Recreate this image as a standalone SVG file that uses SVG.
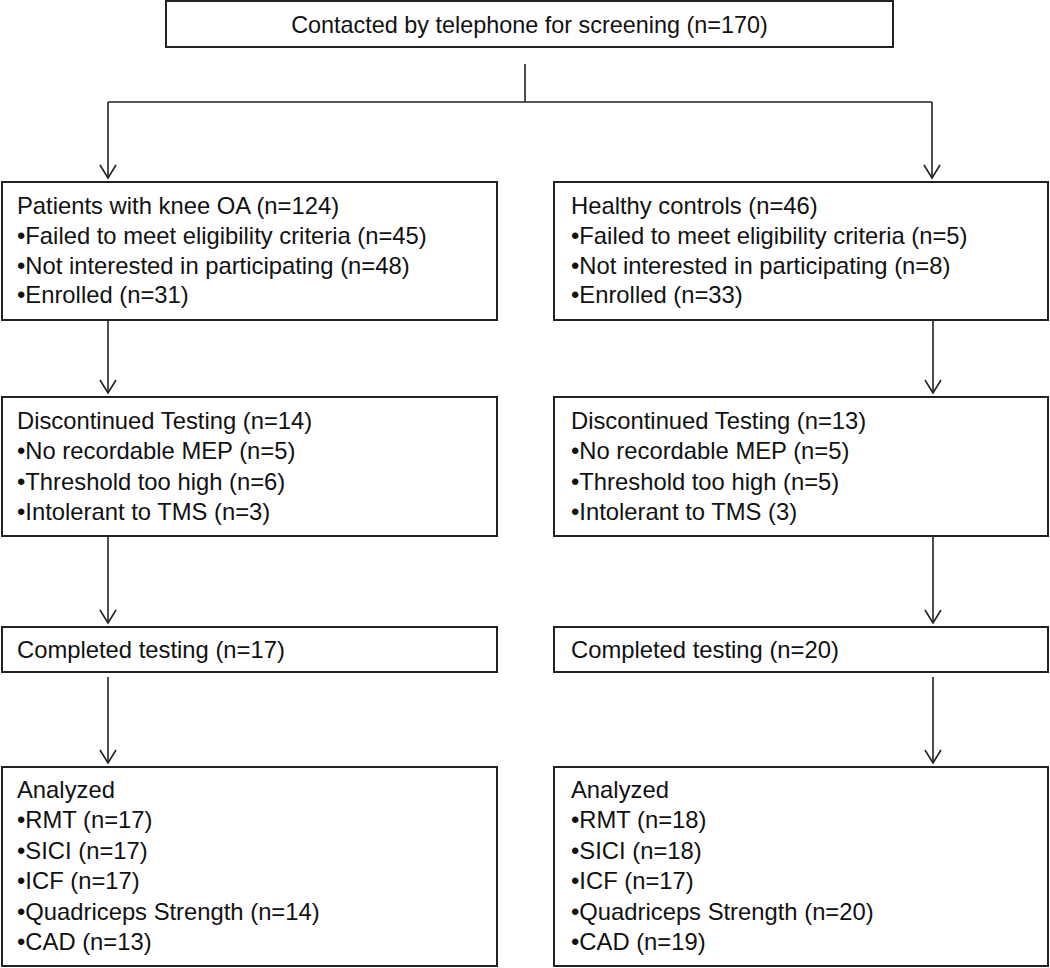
<svg xmlns="http://www.w3.org/2000/svg" width="1050" height="968" viewBox="0 0 1050 968">
<defs>
<style>
.box{fill:#fff;stroke:#222;stroke-width:2}
.t{font-family:"Liberation Sans",Arial,sans-serif;font-size:23.8px;fill:#111}
.c{fill:none;stroke:#222;stroke-width:1.6}
</style>
<marker id="ah" viewBox="0 0 20 20" refX="18" refY="10" markerWidth="20" markerHeight="20" markerUnits="userSpaceOnUse" orient="auto">
<path d="M5,2 L18,10 L5,18" fill="none" stroke="#222" stroke-width="1.6"/>
</marker>
</defs>
<rect width="1050" height="968" fill="#fff"/>
<g id="connectors">
<path class="c" d="M525,64 V102"/>
<path class="c" d="M108,102 H932"/>
<path class="c" d="M108,102 V178" marker-end="url(#ah)"/>
<path class="c" d="M932,102 V178" marker-end="url(#ah)"/>
<path class="c" d="M108,320 V393" marker-end="url(#ah)"/>
<path class="c" d="M933,320 V393" marker-end="url(#ah)"/>
<path class="c" d="M108,536 V623" marker-end="url(#ah)"/>
<path class="c" d="M933,536 V623" marker-end="url(#ah)"/>
<path class="c" d="M108,677 V763" marker-end="url(#ah)"/>
<path class="c" d="M933,677 V763" marker-end="url(#ah)"/>
</g>
<g id="n_top">
<rect class="box" x="166" y="1" width="727" height="46"/>
<text class="t" x="529.5" y="33" text-anchor="middle" style="font-size:23.4px">Contacted by telephone for screening (n=170)</text>
</g>
<g id="n_oa">
<rect class="box" x="2" y="182" width="495" height="138"/>
<text class="t" x="17" y="214">Patients with knee OA (n=124)</text>
<text class="t" x="17" y="244">•Failed to meet eligibility criteria (n=45)</text>
<text class="t" x="17" y="273.5">•Not interested in participating (n=48)</text>
<text class="t" x="17" y="303">•Enrolled (n=31)</text>
</g>
<g id="n_hc">
<rect class="box" x="554" y="182" width="494" height="138"/>
<text class="t" x="571" y="214">Healthy controls (n=46)</text>
<text class="t" x="571" y="244">•Failed to meet eligibility criteria (n=5)</text>
<text class="t" x="571" y="273.5">•Not interested in participating (n=8)</text>
<text class="t" x="571" y="303">•Enrolled (n=33)</text>
</g>
<g id="n_oa_disc">
<rect class="box" x="2" y="397" width="495" height="139"/>
<text class="t" x="17" y="429">Discontinued Testing (n=14)</text>
<text class="t" x="17" y="459">•No recordable MEP (n=5)</text>
<text class="t" x="17" y="490">•Threshold too high (n=6)</text>
<text class="t" x="17" y="520">•Intolerant to TMS (n=3)</text>
</g>
<g id="n_hc_disc">
<rect class="box" x="554" y="397" width="494" height="139"/>
<text class="t" x="571" y="429">Discontinued Testing (n=13)</text>
<text class="t" x="571" y="459">•No recordable MEP (n=5)</text>
<text class="t" x="571" y="490">•Threshold too high (n=5)</text>
<text class="t" x="571" y="520">•Intolerant to TMS (3)</text>
</g>
<g id="n_oa_comp">
<rect class="box" x="2" y="627" width="495" height="45"/>
<text class="t" x="17" y="658">Completed testing (n=17)</text>
</g>
<g id="n_hc_comp">
<rect class="box" x="554" y="627" width="494" height="45"/>
<text class="t" x="571" y="658">Completed testing (n=20)</text>
</g>
<g id="n_oa_an">
<rect class="box" x="2" y="767" width="495" height="199"/>
<text class="t" x="17" y="798">Analyzed</text>
<text class="t" x="17" y="828">•RMT (n=17)</text>
<text class="t" x="17" y="859">•SICI (n=17)</text>
<text class="t" x="17" y="889">•ICF (n=17)</text>
<text class="t" x="17" y="920">•Quadriceps Strength (n=14)</text>
<text class="t" x="17" y="950">•CAD (n=13)</text>
</g>
<g id="n_hc_an">
<rect class="box" x="554" y="767" width="494" height="199"/>
<text class="t" x="571" y="798">Analyzed</text>
<text class="t" x="571" y="828">•RMT (n=18)</text>
<text class="t" x="571" y="859">•SICI (n=18)</text>
<text class="t" x="571" y="889">•ICF (n=17)</text>
<text class="t" x="571" y="920">•Quadriceps Strength (n=20)</text>
<text class="t" x="571" y="950">•CAD (n=19)</text>
</g>
</svg>
